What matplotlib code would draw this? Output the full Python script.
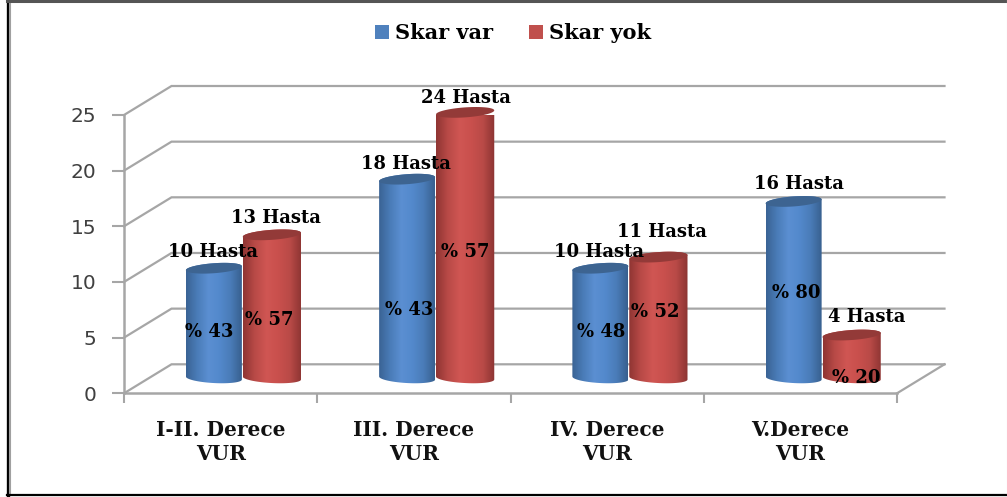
import numpy as np
import matplotlib
matplotlib.use("Agg")
import matplotlib.pyplot as plt
from matplotlib.patches import Polygon, Rectangle
from matplotlib.colors import LinearSegmentedColormap

categories = ["I-II. Derece\nVUR", "III. Derece\nVUR", "IV. Derece\nVUR", "V.Derece\nVUR"]
series_names = ["Skar var", "Skar yok"]
skar_var = [10, 18, 10, 16]
skar_yok = [13, 24, 11, 4]
pct_var = ["% 43", "% 43", "% 48", "% 80"]
pct_yok = ["% 57", "% 57", "% 52", "% 20"]
yticks = [0, 5, 10, 15, 20, 25]

# label placement (px shift from the cylinder centre; value units above the top)
hasta_dx_var = [-1, -1, -1, 5]
hasta_dx_yok = [4, 1, 4, 15]
hasta_dy_var = [2.7, 2.6, 2.7, 2.8]
hasta_dy_yok = [2.75, 2.5, 3.5, 2.85]
pct_dx_var = [-5, 2, 1, 3]
pct_dx_yok = [-3, 0, -3, 5]
pct_y_var = [5.5, 7.5, 5.5, 9.0]
pct_y_yok = [6.6, 12.7, 7.3, 1.4]

W, H = 1007, 497
X0, X1, Y0, Y1 = 124, 897, 393.3, 115
SERIF = "DejaVu Serif"
GRID = "#a6a6a6"

fig = plt.figure(figsize=(W / 100, H / 100), dpi=100, facecolor="white")
ax = fig.add_axes([X0 / W, 1 - Y0 / H, (X1 - X0) / W, (Y0 - Y1) / H])
ax.set_xlim(0, 4)
ax.set_ylim(0, 25)
ax.patch.set_visible(False)
ux = (X1 - X0) / 4
uy = (Y0 - Y1) / 25
dx = 47.5 / ux
dy = 29.0 / uy

for s in ("top", "right"):
    ax.spines[s].set_visible(False)
for s in ("left", "bottom"):
    ax.spines[s].set_color(GRID)
    ax.spines[s].set_linewidth(1.8)
ax.set_yticks(yticks)
ax.set_xticks(range(5))
ax.set_xticklabels([])
ax.set_xticks([i + .5 for i in range(4)], categories, minor=True)
ax.tick_params(axis="x", which="major", length=7, width=1.5, color=GRID)
ax.tick_params(axis="x", which="minor", length=0, pad=19)
ax.tick_params(axis="y", length=9, width=1.5, color=GRID, pad=11,
               labelsize=14.5, labelcolor="#404040")
for t in ax.get_xticklabels(minor=True):
    t.set_fontfamily(SERIF)
    t.set_fontweight("bold")
    t.set_fontsize(14.5)
    t.set_linespacing(1.27)
    t.set_color("#111111")

for v in yticks:
    ax.plot([0, dx, 4 + dx], [v, v + dy, v + dy], color=GRID, lw=1.6,
            clip_on=False, zorder=1, solid_joinstyle="miter")
ax.plot([4, 4 + dx], [0, dy], color=GRID, lw=1.6, clip_on=False, zorder=1)

blue = LinearSegmentedColormap.from_list("b", ["#3a6394", "#4a7cb8", "#5b8fd2", "#5389cc", "#4a7cb8", "#38608f"])
red = LinearSegmentedColormap.from_list("r", ["#8f3533", "#b94a47", "#d05653", "#c9504d", "#b94a47", "#8c3432"])
grad = np.linspace(0, 1, 128).reshape(1, -1)
BASE = 1.37


def cylinder(xc, value, width, cmap, top, z):
    a = width / 2
    ry = 5.0 / uy
    shear_t, shear_b = 2.0 / uy, 1.5 / uy
    t = np.linspace(np.pi, 2 * np.pi, 40)
    bx = xc + a * np.cos(t)
    by = BASE + ry * np.sin(t) - shear_b * np.cos(t)
    tt = np.linspace(0, np.pi, 40)
    topy = BASE + value - 1.5 / uy
    ux_top = xc + a * np.cos(tt)
    uy_top = topy + ry * np.sin(tt) + shear_t * np.cos(tt)
    body = Polygon(np.column_stack([np.r_[bx, ux_top], np.r_[by, uy_top]]), closed=True,
                   fc="none", ec="none", transform=ax.transData)
    ax.add_patch(body)
    im = ax.imshow(grad, cmap=cmap, extent=(xc - a, xc + a, BASE - 2 * ry, topy + 2 * ry),
                   aspect="auto", zorder=z)
    im.set_clip_path(body)
    tf = np.linspace(0, 2 * np.pi, 80)
    ell = np.column_stack([xc + a * np.cos(tf), topy + ry * np.sin(tf) + shear_t * np.cos(tf)])
    ax.add_patch(Polygon(ell, closed=True, fc=top, ec="none", zorder=z + .1, clip_on=False))


w = 56 / ux
off = (47.5 * 0.5 - 1.5) / ux
centres = [i + .5 + off for i in range(4)]
for i, (a, b) in enumerate(zip(skar_var, skar_yok)):
    c = centres[i]
    cylinder(c - w / 2 - 1 / ux, a, w, blue, "#3d6491", 3 + i)
    cylinder(c + w / 2 + 1 / ux, b, w * 1.04, red, "#933a38", 3.5 + i)
ax.set_xlim(0, 4)
ax.set_ylim(0, 25)


def label(x, y, s):
    ax.text(x, y, s, ha="center", va="center", family=SERIF, weight="bold",
            fontsize=13, color="black", zorder=20, clip_on=False)


for i, (a, b) in enumerate(zip(skar_var, skar_yok)):
    c = centres[i]
    xa, xb = c - w / 2 - 1 / ux, c + w / 2 + 1 / ux
    label(xa + hasta_dx_var[i] / ux, a + hasta_dy_var[i], f"{a} Hasta")
    label(xb + hasta_dx_yok[i] / ux, b + hasta_dy_yok[i], f"{b} Hasta")
    label(xa + pct_dx_var[i] / ux, pct_y_var[i], pct_var[i])
    label(xb + pct_dx_yok[i] / ux, pct_y_yok[i], pct_yok[i])

handles = [Rectangle((0, 0), 1, 1, fc="#4f81bd"), Rectangle((0, 0), 1, 1, fc="#c0504d")]
fig.legend(handles, series_names, loc="center", bbox_to_anchor=(513 / W, 1 - 33 / H), ncol=2,
           frameon=False, handlelength=.67, handleheight=.67, handletextpad=.3, columnspacing=1.7,
           prop={"family": SERIF, "weight": "bold", "size": 15})

L = fig.transFigure
fig.add_artist(plt.Line2D([7.5 / W, 7.5 / W], [2 / H, 1], color="black", lw=2.4, transform=L))
fig.add_artist(plt.Line2D([10.2 / W, 10.2 / W], [3 / H, 1], color="#a0a0a0", lw=1.5, transform=L))
fig.add_artist(plt.Line2D([7 / W, 1], [1 - 1 / H, 1 - 1 / H], color="#555555", lw=2.2, transform=L))
fig.add_artist(plt.Line2D([7 / W, 1], [2.5 / H, 2.5 / H], color="black", lw=1.6, transform=L))
fig.add_artist(plt.Line2D([1006.5 / W, 1006.5 / W], [3 / H, 1], color="#e4e4e4", lw=.8, transform=L))

fig.savefig("out.png", dpi=100, facecolor="white")
